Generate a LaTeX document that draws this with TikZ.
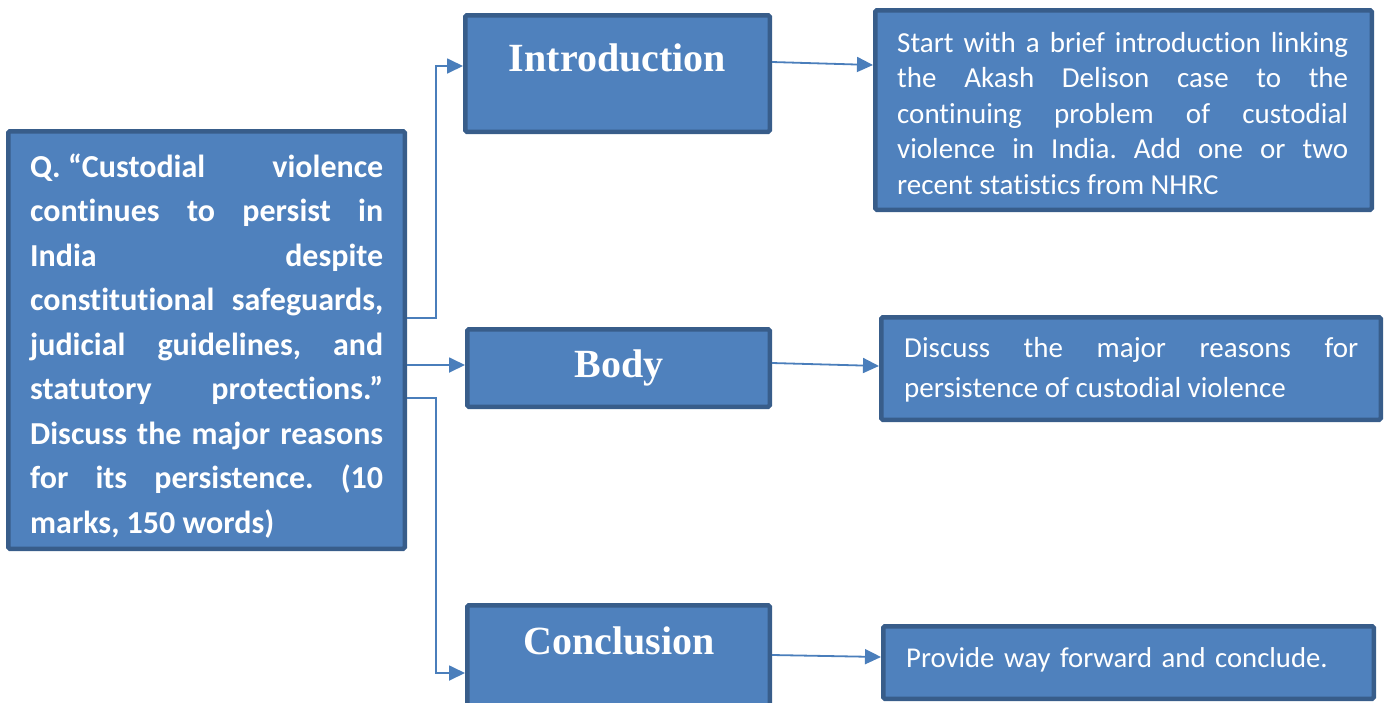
\documentclass[tikz,border=0pt]{standalone}
\usepackage{fontspec}
\setmainfont{Carlito}[Ligatures=NoCommon]
\newfontfamily\headfont{Liberation Serif}
\usetikzlibrary{arrows.meta}
\definecolor{boxfill}{HTML}{4F81BD}
\definecolor{boxline}{HTML}{385D8A}
\definecolor{connline}{HTML}{4A7EBB}
\frenchspacing
\begin{document}
\begin{tikzpicture}[x=1pt,y=-1pt,
  panel/.style={draw=boxline, fill=boxfill, line width=4.5pt, rounded corners=1.5pt,
    anchor=north west, inner sep=0pt},
  conn/.style={draw=connline, line width=1.8pt, -{Triangle[length=16pt,width=15pt]}},
  heading/.style={text=white, anchor=base, inner sep=0pt,
    font=\headfont\bfseries\fontsize{40}{48}\selectfont},
  para/.style={text=white, anchor=base west, inner sep=0pt, align=justify},
]
\useasboundingbox (0,0) rectangle (1387,702);
\clip (0,0) rectangle (1387,702);

% question panel
\node[panel, minimum width=396.5pt, minimum height=417.5pt] (qbox) at (6,129) {};
\node[para, text width=353pt,
  font=\bfseries\fontsize{32}{44.5}\selectfont] (qtext) at (30,177)
  {\tolerance=10000\hbadness=10000\hyphenpenalty=10000
   Q.\hspace{0.23em}“Custodial violence\linebreak
   continues to persist in\linebreak
   India despite\linebreak
   constitutional safeguards,\linebreak
   judicial guidelines, and\linebreak
   statutory protections.”\linebreak
   Discuss the major reasons\linebreak
   for its persistence. (10\linebreak
   marks, 150 words)};

% section panels
\node[panel, minimum width=304.5pt, minimum height=116.5pt] (introbox) at (463,13) {};
\node[heading] (introtitle) at (617.5,71) {Introduction};
\node[panel, minimum width=302.5pt, minimum height=77.5pt] (bodybox) at (465,327) {};
\node[heading] (bodytitle) at (619,377) {Body};
\node[panel, minimum width=302.5pt, minimum height=122.5pt] (conclbox) at (465,603) {};
\node[heading] (concltitle) at (619,654) {Conclusion};

% description panels
\node[panel, minimum width=496.5pt, minimum height=199.5pt] (introdesc) at (873,8) {};
\node[para, text width=451pt, font=\fontsize{29}{35.5}\selectfont] (introtext) at (897,52)
  {\tolerance=10000\hbadness=10000\hyphenpenalty=10000
   Start with a brief introduction linking\linebreak
   the Akash Delison case to the\linebreak
   continuing problem of custodial\linebreak
   violence in India. Add one or two\linebreak
   recent statistics from NHRC};
\node[panel, minimum width=499.5pt, minimum height=102.5pt] (bodydesc) at (879,315) {};
\node[para, text width=454pt, font=\fontsize{29}{40}\selectfont] (bodytext) at (904,357)
  {\tolerance=10000\hbadness=10000\hyphenpenalty=10000
   Discuss the major reasons for\linebreak
   persistence of custodial violence};
\node[panel, minimum width=490.5pt, minimum height=72.5pt] (concldesc) at (881,624) {};
\node[para, text width=440pt, font=\fontsize{28.7}{35}\selectfont, align=left] (concltext) at (906,667)
  {Provide way forward and conclude.};

% connectors
\coordinate (split) at (436,0);
\draw[conn] (qbox.east |- 0,318) -| (split |- 0,66) -- (introbox.west |- 0,66);
\draw[conn] (qbox.east |- 0,365) -- (bodybox.west |- 0,365);
\draw[conn] (qbox.east |- 0,398) -| (split |- 0,673) -- (conclbox.west |- 0,673);
\draw[conn] (introbox.east |- 0,62) -- (introdesc.west |- 0,65);
\draw[conn] (bodybox.east |- 0,363) -- (bodydesc.west |- 0,366);
\draw[conn] (conclbox.east |- 0,655) -- (concldesc.west |- 0,657);
\end{tikzpicture}
\end{document}
